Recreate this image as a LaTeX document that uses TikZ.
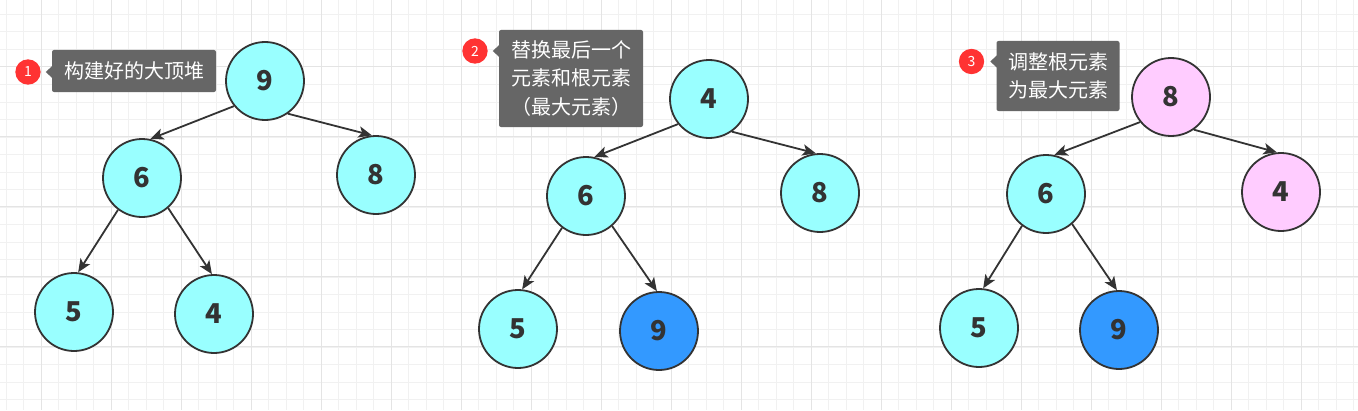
\documentclass[tikz,border=0pt]{standalone}
\usepackage{fontspec}
\setmainfont{Noto Sans CJK SC}
\usetikzlibrary{arrows.meta}
\definecolor{gridminor}{HTML}{F1F1F1}
\definecolor{gridmajor}{HTML}{E4E4E4}
\definecolor{cyanfill}{HTML}{99FFFF}
\definecolor{pinkfill}{HTML}{FFCCFF}
\definecolor{bluefill}{HTML}{3399FF}
\definecolor{ink}{HTML}{333333}
\definecolor{tipgray}{HTML}{666666}
\definecolor{badgered}{HTML}{FF3333}
\tikzset{
  heapnode/.style={circle, draw=ink, line width=1.35pt, minimum size=58.5pt, inner sep=0pt,
    font=\fontsize{20.5}{24}\selectfont\bfseries, text=ink},
  cyannode/.style={heapnode, fill=cyanfill},
  pinknode/.style={heapnode, fill=pinkfill},
  bluenode/.style={heapnode, fill=bluefill},
  heapedge/.style={draw=ink, line width=1.35pt, -{Stealth[length=10pt,width=8.5pt,inset=2.5pt]}},
  callout/.style={fill=tipgray, rounded corners=1.5pt, text=white, inner sep=0pt,
    font=\fontsize{15}{21.5}\selectfont},
  badge/.style={circle, fill=badgered, minimum size=19pt, inner sep=0pt, text=white,
    font=\fontsize{10.5}{12}\selectfont},
  gridminorline/.style={draw=gridminor, line width=0.75pt},
  gridmajorline/.style={draw=gridmajor, line width=0.75pt}
}
\begin{document}
\begin{tikzpicture}[x=0.75pt, y=-0.75pt]
\useasboundingbox (0,0) rectangle (1358,410);
\fill[white] (0,0) rectangle (1358,410);
% grid
\foreach \i in {0,...,77}{\draw[gridminorline] ({6.3+17.5*\i},0) -- ({6.3+17.5*\i},410);}
\foreach \j in {0,...,23}{\draw[gridminorline] (0,{14.5+17.5*\j}) -- (1358,{14.5+17.5*\j});}
\foreach \i in {0,...,19}{\draw[gridmajorline] ({41.3+70*\i},0) -- ({41.3+70*\i},410);}
\foreach \j in {0,...,5}{\draw[gridmajorline] (0,{66.7+70*\j}) -- (1358,{66.7+70*\j});}

% ---------- callouts ----------
\node[badge] (b1) at (28,72) {1};
\node[callout, minimum width=123pt, minimum height=31.5pt] (c1) at (134,71) {构建好的大顶堆};
\fill[tipgray] (c1.west |- b1) ++(0.5,-6) -- ++(-6.5,6) -- ++(6.5,6) -- cycle;

\node[badge] (b2) at (475,51) {2};
\node[callout, minimum width=108pt, minimum height=72.75pt, align=center] (c2) at (571,78.5)
  {替换最后一个\\元素和根元素\\（最大元素）};
\fill[tipgray] (c2.west |- b2) ++(0.5,-6) -- ++(-6.5,6) -- ++(6.5,6) -- cycle;

\node[badge] (b3) at (971.5,61.5) {3};
\node[callout, minimum width=92.25pt, minimum height=52.5pt, align=left] (c3) at (1058,76)
  {调整根元素\\为最大元素};
\fill[tipgray] (c3.west |- b3) ++(0.5,-6) -- ++(-6.5,6) -- ++(6.5,6) -- cycle;

% ---------- tree 1 ----------
\node[cyannode] (t1a) at (265,81) {9};
\node[cyannode] (t1b) at (142,178) {6};
\node[cyannode] (t1c) at (376,175) {8};
\node[cyannode] (t1d) at (74,312) {5};
\node[cyannode] (t1e) at (214,314) {4};
\draw[heapedge] (t1a.219) -- (t1b.78);
\draw[heapedge] (t1a.305) -- (t1c.96);
\draw[heapedge] (t1b.233) -- (t1d.84);
\draw[heapedge] (t1b.311) -- (t1e.93);

% ---------- tree 2 ----------
\node[cyannode] (t2a) at (709,99) {4};
\node[cyannode] (t2b) at (586,196) {6};
\node[cyannode] (t2c) at (820,193) {8};
\node[cyannode] (t2d) at (518,329) {5};
\node[bluenode] (t2e) at (659,331) {9};
\draw[heapedge] (t2a.219) -- (t2b.78);
\draw[heapedge] (t2a.305) -- (t2c.96);
\draw[heapedge] (t2b.233) -- (t2d.84);
\draw[heapedge] (t2b.311) -- (t2e.93);

% ---------- tree 3 ----------
\node[pinknode] (t3a) at (1171,97) {8};
\node[cyannode] (t3b) at (1046,194) {6};
\node[pinknode] (t3c) at (1281,192) {4};
\node[cyannode] (t3d) at (979,328) {5};
\node[bluenode] (t3e) at (1119,330) {9};
\draw[heapedge] (t3a.219) -- (t3b.78);
\draw[heapedge] (t3a.305) -- (t3c.96);
\draw[heapedge] (t3b.233) -- (t3d.84);
\draw[heapedge] (t3b.311) -- (t3e.93);
\end{tikzpicture}
\end{document}
